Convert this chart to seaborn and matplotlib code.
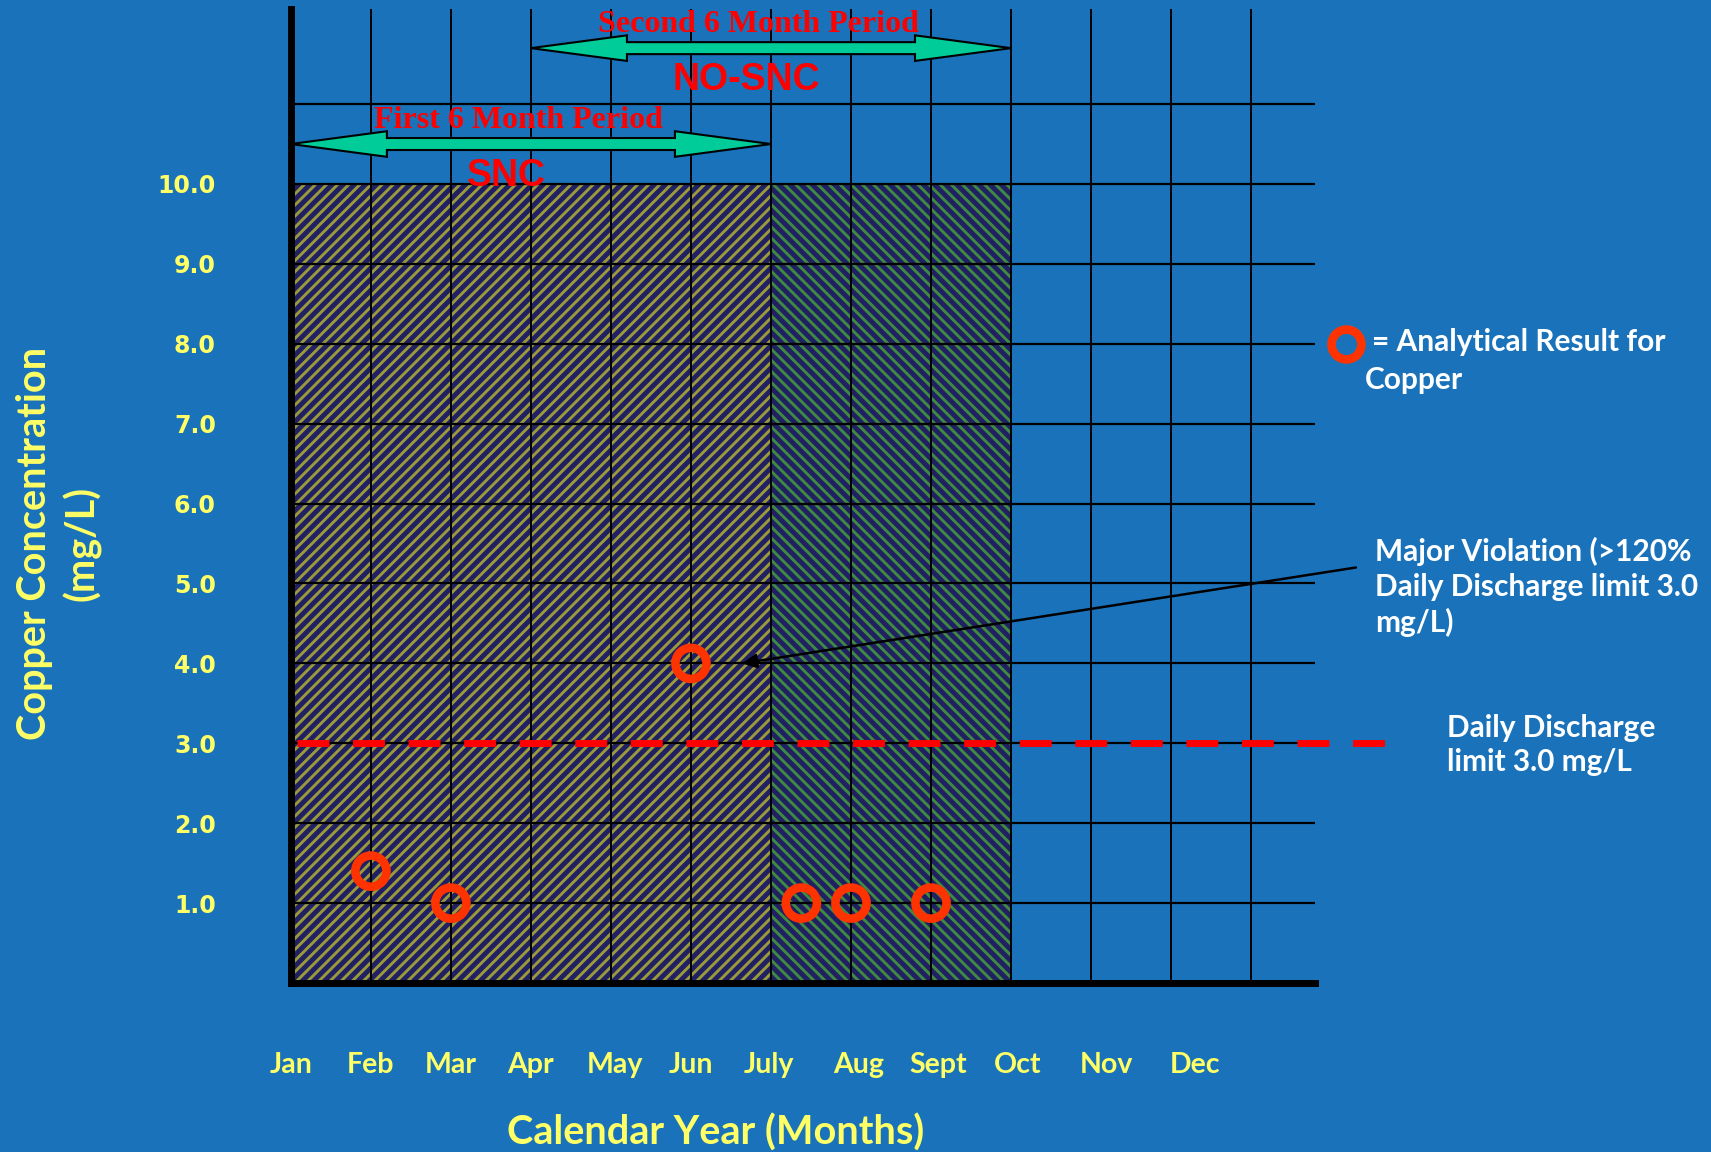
import numpy as np
import matplotlib
matplotlib.use("Agg")
import matplotlib.pyplot as plt
import matplotlib.patches as mpatches
import seaborn as sns
import pandas as pd

# ---- data ----
months = ["Jan", "Feb", "Mar", "Apr", "May", "Jun",
          "July", "Aug", "Sept", "Oct", "Nov", "Dec"]
y_ticks = [1, 2, 3, 4, 5, 6, 7, 8, 9, 10]
y_tick_labels = ["1.0", "2.0", "3.0", "4.0", "5.0", "6.0", "7.0", "8.0", "9.0", "10.0"]

sample_month = [1.0, 2.0, 5.0, 6.38, 7.0, 8.0]
sample_copper = [1.4, 1.0, 4.0, 1.0, 1.0, 1.0]

daily_limit = 3.0
violation_point = (5.64, 4.0)

period_names = ["First 6 Month Period", "Second 6 Month Period"]
period_status = ["SNC", "NO-SNC"]
period_start = [0, 3]
period_end = [6, 9]
period_arrow_y = [10.5, 11.7]

shade_start = [0, 6]
shade_end = [6, 9]
shade_top = 10.0

# ---- style ----
BG = "#1a73ba"
YELLOW = "#ffff66"
RED = "#ff0000"
CIRCLE = "#ff3300"
NAVY = "#202062"
OLIVE = "#9a9a3c"
GREEN = "#3f8a42"
ARROW = "#00cc99"

sns.set_theme(style="white")
plt.rcParams["font.family"] = ["Lato", "DejaVu Sans"]
plt.rcParams["hatch.linewidth"] = 2.1

fig = plt.figure(figsize=(17.11, 11.52), dpi=100, facecolor=BG)
ax = fig.add_axes([0.170, 0.1467, 0.5986, 0.8455])
ax.set_facecolor(BG)
xmax, ymax = 12.8, 12.19
ax.set_xlim(0, xmax)
ax.set_ylim(0, ymax)

# shaded compliance windows
ax.bar(shade_start[0], shade_top, width=shade_end[0] - shade_start[0], align="edge",
       color=NAVY, edgecolor=OLIVE, hatch="///", linewidth=0, zorder=1)
ax.bar(shade_start[1], shade_top, width=shade_end[1] - shade_start[1], align="edge",
       color=NAVY, edgecolor=GREEN, hatch="\\\\\\", linewidth=0, zorder=1)

# grid
ax.hlines(np.arange(1, 12), 0, xmax, color="black", lw=1.6, zorder=2)
ax.vlines(np.arange(1, 13), 0, ymax, color="black", lw=1.4, zorder=2)

# daily discharge limit
ax.plot([0.08, 13.9], [daily_limit, daily_limit], color=RED, lw=5,
        dashes=(4.6, 3.4), solid_capstyle="butt", dash_capstyle="butt",
        clip_on=False, zorder=4)

# samples
df = pd.DataFrame({"month": sample_month, "copper": sample_copper})
sns.scatterplot(data=df, x="month", y="copper", ax=ax, s=500, marker="o",
                facecolor="none", edgecolor=CIRCLE, linewidth=6.2, zorder=5,
                clip_on=False)

# period arrows
head_len, head_half, body_half = 1.2, 0.16, 0.075
for name, status, x0, x1, y in zip(period_names, period_status, period_start,
                                   period_end, period_arrow_y):
    pts = [(x0, y), (x0 + head_len, y + head_half), (x0 + head_len, y + body_half),
           (x1 - head_len, y + body_half), (x1 - head_len, y + head_half), (x1, y),
           (x1 - head_len, y - head_half), (x1 - head_len, y - body_half),
           (x0 + head_len, y - body_half), (x0 + head_len, y - head_half)]
    ax.add_patch(mpatches.Polygon(pts, closed=True, facecolor=ARROW,
                                  edgecolor="black", lw=1.5, zorder=6, clip_on=False))
    mid = (x0 + x1) / 2
    ax.text(mid - 0.16, y + 0.29, name, color=RED, fontsize=23, fontweight="bold",
            family=["Liberation Serif", "DejaVu Serif"], ha="center", va="center", zorder=7)
    ax.text(mid - 0.31, y - 0.40, status, color=RED, fontsize=27, fontweight="bold",
            family=["Liberation Sans Narrow", "Liberation Sans"], ha="center",
            va="center", zorder=7)

# violation callout
ax.annotate("", xy=violation_point, xytext=(13.31, 5.2),
            arrowprops=dict(arrowstyle="-|>", color="black", lw=1.8,
                            mutation_scale=22, shrinkA=0, shrinkB=0),
            annotation_clip=False, zorder=6)

# axes styling
for side in ["top", "right"]:
    ax.spines[side].set_visible(False)
for side in ["left", "bottom"]:
    ax.spines[side].set_color("black")
    ax.spines[side].set_linewidth(5)
    ax.spines[side].set_zorder(8)

ax.set_xlabel("")
ax.set_ylabel("")
ax.set_yticks(y_ticks)
ax.set_yticklabels(y_tick_labels, color=YELLOW, fontsize=17, fontweight="bold",
                   family="DejaVu Sans")
month_pos = [0, 1, 2, 3, 4.05, 5, 5.98, 7.09, 8.09, 9.08, 10.19, 11.3]
ax.set_xticks(month_pos)
ax.set_xticklabels(months, color=YELLOW, fontsize=20.5, fontweight="bold")
ax.tick_params(axis="y", length=0, pad=54)
ax.tick_params(axis="x", length=0, pad=50)
ax.grid(False)

fig.text(0.418, 0.0165, "Calendar Year (Months)", color=YELLOW, fontsize=28.5,
         fontweight="bold", ha="center", va="center")
fig.text(0.0345, 0.5286, "Copper Concentration\n(mg/L)", color=YELLOW, fontsize=28.5,
         fontweight="bold", ha="center", va="center", rotation=90, linespacing=1.3)

# side notes
ax.plot([13.19], [8.0], marker="o", ms=21.5, mfc="none", mec=CIRCLE, mew=6.2,
        clip_on=False, zorder=6)
fig.text(1372 / 1711, 1 - 342 / 1152, "= Analytical Result for", color="white",
         fontsize=21.5, fontweight="bold", ha="left", va="center")
fig.text(1365 / 1711, 1 - 380 / 1152, "Copper", color="white",
         fontsize=21.5, fontweight="bold", ha="left", va="center")
fig.text(1375 / 1711, 1 - 587 / 1152,
         "Major Violation (>120%\nDaily Discharge limit 3.0\nmg/L)", color="white",
         fontsize=21.5, fontweight="bold", ha="left", va="center", linespacing=1.3)
fig.text(1447 / 1711, 1 - 745 / 1152, "Daily Discharge\nlimit 3.0 mg/L", color="white",
         fontsize=21.5, fontweight="bold", ha="left", va="center", linespacing=1.3)

fig.savefig("out.png", dpi=100, facecolor=BG)
